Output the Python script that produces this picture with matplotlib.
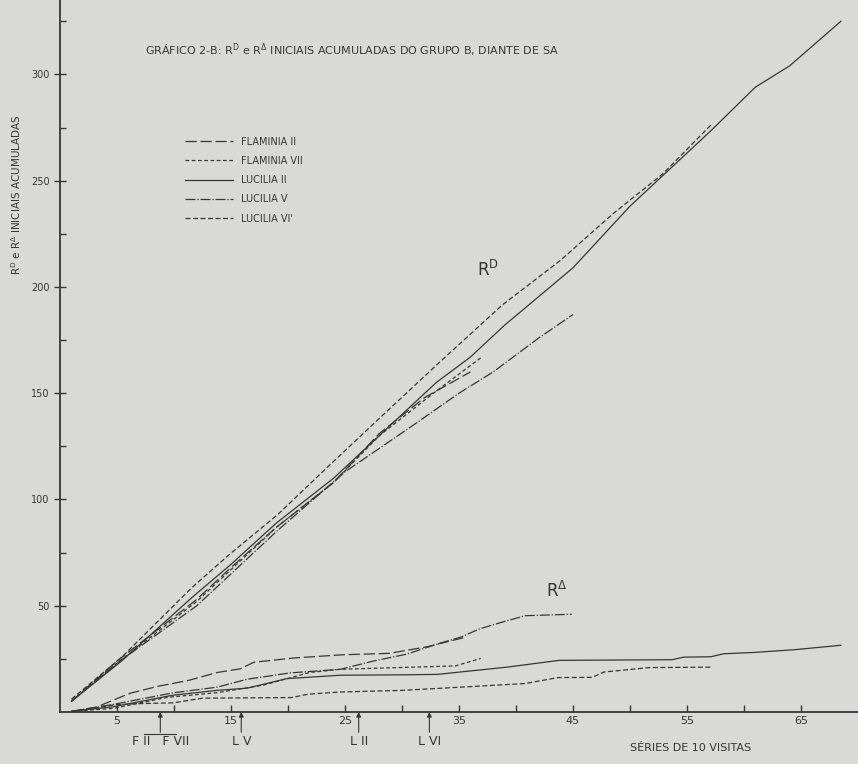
import numpy as np
import matplotlib
matplotlib.use("Agg")
import matplotlib.pyplot as plt
import matplotlib.transforms as mtrans
from matplotlib.ticker import FixedLocator

# R^D initial responses, accumulated (x = series of 10 visits)
rd_fii_x = [1, 5, 12, 15, 19, 24, 28, 32, 36]
rd_fii_y = [5, 24, 53, 68, 87, 108, 131, 148, 160]
rd_fvii_x = [1, 5, 12, 15, 19, 24, 28, 33, 37]
rd_fvii_y = [5, 23, 52, 67, 87, 108, 130, 151, 167]
rd_lii_x = [1, 5.4, 11.6, 14.9, 19, 24, 28, 33, 36, 39, 45, 50, 57, 61, 64, 68.5]
rd_lii_y = [5, 24, 54, 69, 89, 110, 130, 155, 167, 182, 209, 238, 273, 294, 304, 325]
rd_lv_x = [1, 5, 12, 15, 19, 25, 31, 35, 38, 42, 45]
rd_lv_y = [5, 23, 50, 65, 85, 113, 135, 150, 160, 176, 187]
rd_lvi_x = [1, 5.4, 11.6, 14.9, 19.1, 23.6, 28.3, 33.3, 38.8, 43.9, 48.5, 52.9, 57.1]
rd_lvi_y = [6, 25.7, 58.7, 74.3, 92.9, 115.9, 139.6, 164.6, 191.5, 212.5, 234.4, 253.3, 276.2]

# R^Delta initial responses, accumulated
ra_fii_x = [1, 3.2, 4.9, 6.2, 8.6, 11.3, 13.8, 15.8, 17.0, 20.5, 24.7, 28.9, 32.2, 35.6]
ra_fii_y = [0.3, 2.3, 6.1, 8.9, 12.1, 14.9, 18.6, 20.3, 23.4, 25.4, 26.9, 27.6, 30.7, 35.2]
ra_fvii_x = [1, 4.7, 9.4, 13.8, 17.8, 21.9, 24.6, 30.3, 34.7, 36.9]
ra_fvii_y = [0.3, 1.7, 6.9, 9.1, 12.6, 18.6, 20.1, 21.0, 21.7, 25.2]
ra_lii_x = [1, 4.7, 9.9, 13.8, 16.4, 19.9, 24.6, 30.2, 33.1, 39.2, 43.8, 53.7, 54.7, 57.1, 58.2, 60.8, 64.4, 68.5]
ra_lii_y = [0.3, 2.5, 7.9, 10.2, 11.2, 15.7, 17.3, 17.5, 17.7, 21.1, 24.3, 24.6, 25.8, 26.0, 27.4, 28.0, 29.3, 31.4]
ra_lv_x = [1, 4.7, 9.9, 13.8, 16.4, 20.2, 24.6, 27.5, 30.4, 33.4, 35.2, 36.8, 38.6, 40.8, 44.9]
ra_lv_y = [0.3, 3.6, 9.0, 11.7, 15.4, 18.4, 20.1, 24.0, 27.2, 32.5, 35.3, 39.1, 42.0, 45.3, 46.0]
ra_lvi_x = [1, 4.9, 7.4, 9.9, 12.5, 15.1, 20.3, 21.8, 24.5, 30.1, 34.5, 40.8, 43.7, 46.7, 47.7, 51.7, 57.1]
ra_lvi_y = [0.1, 3.5, 4.0, 4.3, 6.5, 6.6, 6.8, 8.4, 9.4, 10.2, 11.5, 13.4, 16.2, 16.3, 18.8, 20.9, 21.1]

names = ["FLAMINIA II", "FLAMINIA VII", "LUCILIA II", "LUCILIA V", "LUCILIA VI'"]
styles = [(0, (9, 3)), (0, (3, 2)), "-", (0, (8, 1.5, 1, 1.5)), (0, (4, 2))]

# arrows under the x axis
marks_x = [8.8, 15.9, 26.2, 32.4]
marks_lab = ["F II   F VII", "L V", "L II", "L VI"]

ink = "#363636"
paper = "#d9d9d5"

fig = plt.figure(figsize=(8.58, 7.64), dpi=100, facecolor=paper)
ax = fig.add_axes([60/858, 52/764, 798/858, 712/764], facecolor=paper)

rd = [(rd_fii_x, rd_fii_y), (rd_fvii_x, rd_fvii_y), (rd_lii_x, rd_lii_y),
      (rd_lv_x, rd_lv_y), (rd_lvi_x, rd_lvi_y)]
ra = [(ra_fii_x, ra_fii_y), (ra_fvii_x, ra_fvii_y), (ra_lii_x, ra_lii_y),
      (ra_lv_x, ra_lv_y), (ra_lvi_x, ra_lvi_y)]

for i in range(5):
    ax.plot(rd[i][0], rd[i][1], color=ink, lw=0.9, ls=styles[i], label=names[i])
    ax.plot(ra[i][0], ra[i][1], color=ink, lw=0.9, ls=styles[i])

ax.set_xlim(0, 70)
ax.set_ylim(0, 335)

for s in ["top", "right"]:
    ax.spines[s].set_visible(False)
for s in ["left", "bottom"]:
    ax.spines[s].set_color(ink)
    ax.spines[s].set_linewidth(1.3)

ax.yaxis.set_major_locator(FixedLocator([50, 100, 150, 200, 250, 300]))
ax.yaxis.set_minor_locator(FixedLocator([25, 75, 125, 175, 225, 275, 325]))
ax.xaxis.set_major_locator(FixedLocator([5, 15, 25, 35, 45, 55, 65]))
ax.xaxis.set_minor_locator(FixedLocator([10, 20, 30, 40, 50, 60]))
ax.tick_params(axis="y", which="major", direction="inout", length=8, width=1, colors=ink, labelsize=7)
ax.tick_params(axis="y", which="minor", direction="in", length=4, width=1, colors=ink)
ax.tick_params(axis="x", which="both", direction="in", length=5, width=1, colors=ink, labelsize=8, pad=3)

ax.legend(loc="upper left", bbox_to_anchor=(0.15, 0.815), frameon=False,
          fontsize=7, handlelength=5, labelspacing=0.95, borderpad=0,
          labelcolor=ink)

ax.text(37.5, 208, r"R$^{\mathrm{D}}$", fontsize=12, color=ink, ha="center", va="center")
ax.text(43.6, 57, r"R$^{\Delta}$", fontsize=12, color=ink, ha="center", va="center")

for xm, lab in zip(marks_x, marks_lab):
    ax.annotate(lab, xy=(xm, 0), xytext=(0, -26), textcoords="offset points",
                ha="center", va="bottom", fontsize=9, color=ink, annotation_clip=False,
                arrowprops=dict(arrowstyle="-|>", color=ink, lw=0.8, mutation_scale=7,
                                shrinkA=0, shrinkB=0))

# bracket joining F II and F VII under the first arrow
below = ax.transData + mtrans.ScaledTranslation(0, -16/72, fig.dpi_scale_trans)
ax.plot([marks_x[0] - 1.4, marks_x[0] + 1.4], [0, 0], color=ink, lw=0.8,
        transform=below, clip_on=False)

ax.annotate("SÉRIES DE 10 VISITAS", xy=(50, 0), xytext=(0, -22), textcoords="offset points",
            ha="left", va="top", fontsize=8, color=ink, annotation_clip=False)

fig.text(145/858, 1 - 50/764,
         r"GRÁFICO 2-B: R$^{\mathrm{D}}$ e R$^{\Delta}$ INICIAIS ACUMULADAS DO GRUPO B, DIANTE DE SA",
         fontsize=8, color=ink, ha="left", va="center")
fig.text(16/858, 1 - 195/764, r"R$^{\mathrm{D}}$ e R$^{\Delta}$ INICIAIS ACUMULADAS",
         fontsize=7.5, color=ink, rotation=90, ha="center", va="center")

fig.savefig("out.png", dpi=100, facecolor=paper)
